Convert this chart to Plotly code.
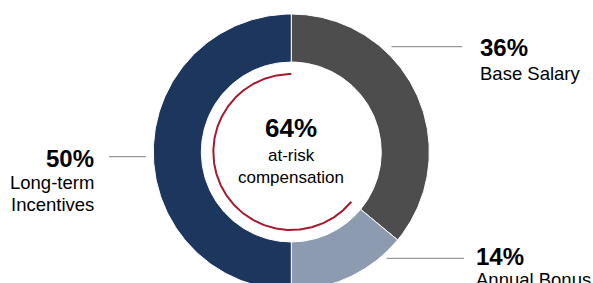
import numpy as np
import plotly.graph_objects as go

# ---- data ----
categories = ["Base Salary", "Annual Bonus", "Long-term Incentives"]
values = [36, 14, 50]
label_lines = [["Base Salary"], ["Annual Bonus"], ["Long-term", "Incentives"]]
colors = ["#4d4d4d", "#8c9bb0", "#1c365e"]
at_risk = ["Annual Bonus", "Long-term Incentives"]
center_lines = ["at-risk", "compensation"]

# ---- geometry (layout) ----
W, H = 593, 283
CX, CY, R = 291.3, 152.0, 138.0
HOLE = 0.652
ARC_R = 0.565

def px(x):
    return (x - CX) / R

def py(y):
    return (CY - y) / R

fig = go.Figure()

total = sum(values)
cum = np.concatenate([[0], np.cumsum(values)]) / total

def ang(frac):
    # clockwise from 12 o'clock
    return np.pi / 2 - 2 * np.pi * frac

for i, (cat, v, col) in enumerate(zip(categories, values, colors)):
    t = np.linspace(ang(cum[i]), ang(cum[i + 1]), 200)
    xs = np.concatenate([np.cos(t), HOLE * np.cos(t[::-1])])
    ys = np.concatenate([np.sin(t), HOLE * np.sin(t[::-1])])
    xs = np.append(xs, xs[0])
    ys = np.append(ys, ys[0])
    fig.add_trace(go.Scatter(x=xs, y=ys, mode="lines", fill="toself",
                             fillcolor=col, line=dict(color="white", width=1),
                             hoverinfo="text", text=f"{cat}: {v}%", name=cat))

# red arc around the at-risk share
risk_idx = [categories.index(c) for c in at_risk]
risk_share = sum(values[i] for i in risk_idx)
start = cum[min(risk_idx)]
end = cum[max(risk_idx) + 1]
t = np.linspace(ang(start), ang(end), 300)
fig.add_trace(go.Scatter(x=ARC_R * np.cos(t), y=ARC_R * np.sin(t), mode="lines",
                         line=dict(color="#a6192e", width=2), hoverinfo="skip"))

font = "Liberation Sans, Arial, sans-serif"
ann = []
# center text
ann.append(dict(x=0, y=py(128), text=f"<b>{risk_share}%</b>", font=dict(size=26, color="#000", family=font)))
ann.append(dict(x=0, y=py(155), text=center_lines[0], font=dict(size=17, color="#000", family=font)))
ann.append(dict(x=0, y=py(177), text=center_lines[1], font=dict(size=17, color="#000", family=font)))

label_pos = {
    "Base Salary": dict(x=477.5, anchor="left", ys=[47, 73], lead=(391.5, 462, 46.7)),
    "Annual Bonus": dict(x=474, anchor="left", ys=[256.7, 279], lead=(386.7, 464, 258.3)),
    "Long-term Incentives": dict(x=96, anchor="right", ys=[158, 182, 204], lead=(109, 146, 156.7)),
}
shapes = []
for cat, v, lines in zip(categories, values, label_lines):
    p = label_pos[cat]
    ann.append(dict(x=px(p["x"]), y=py(p["ys"][0]), text=f"<b>{v}%</b>", xanchor=p["anchor"],
                    font=dict(size=24, color="#000", family=font)))
    for ln, yy in zip(lines, p["ys"][1:]):
        ann.append(dict(x=px(p["x"]), y=py(yy), text=ln, xanchor=p["anchor"],
                        font=dict(size=18.5, color="#000", family=font)))
    x0, x1, yl = p["lead"]
    shapes.append(dict(type="line", xref="x", yref="y", x0=px(x0), x1=px(x1), y0=py(yl), y1=py(yl),
                       line=dict(color="#808080", width=1)))

for a in ann:
    a.setdefault("xanchor", "center")
    a.update(xref="x", yref="y", showarrow=False, yanchor="middle")

fig.update_layout(
    width=W, height=H, margin=dict(l=0, r=0, t=0, b=0),
    paper_bgcolor="white", plot_bgcolor="white", showlegend=False,
    xaxis=dict(range=[px(0), px(W)], visible=False, fixedrange=True),
    yaxis=dict(range=[py(H), py(0)], visible=False, fixedrange=True),
    annotations=ann, shapes=shapes,
)
fig.write_html("out.html", config={"displayModeBar": False},
               post_script="document.body.style.margin='0';document.body.style.overflow='hidden';")
